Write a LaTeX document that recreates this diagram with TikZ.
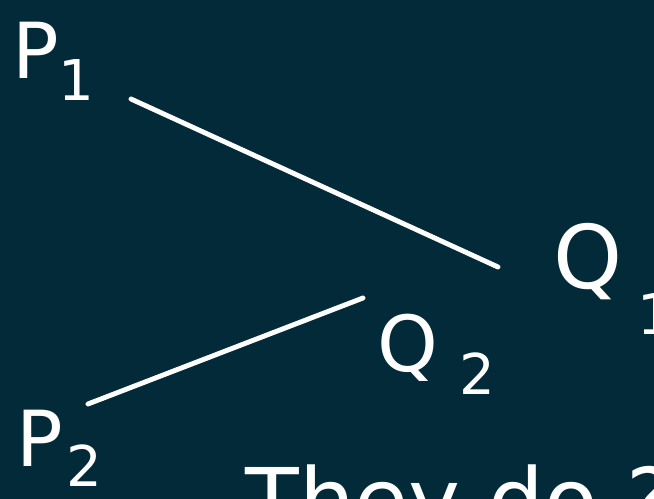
\documentclass[tikz,border=0pt]{standalone}
\usepackage{fontspec}
\setmainfont{DejaVu Sans}
\usetikzlibrary{positioning}
\definecolor{boardbg}{HTML}{022A38}

\begin{document}
\begin{tikzpicture}[x=0.02cm, y=-0.02cm,
    every node/.style={text=white, inner sep=0pt, font=\fontsize{44}{44}\selectfont},
    sub/.style={font=\fontsize{32}{32}\selectfont},
    chalk/.style={white, line width=2.8pt, line cap=round}]
      \fill[boardbg] (0,0) rectangle (654,499);
      \useasboundingbox (0,0) rectangle (654,499);
      \clip (0,0) rectangle (654,499);
      % points and labels
      \node (p1) at (36,50) {P};
      \node[sub] (p1sub) at (76,80) {1};
      \node[font=\fontsize{50}{50}\selectfont] (q1) at (588,262) {Q};
      \node[sub] (q1sub) at (655,314) {1};
      \node (q2) at (408,348) {Q};
      \node[sub] (q2sub) at (477,374) {2};
      \node (p2) at (40,438) {P};
      \node[sub] (p2sub) at (84,466) {2};
      \coordinate (a1) at (131,99);
      \coordinate (b1) at (498,267);
      \coordinate (a2) at (88,404);
      \coordinate (b2) at (363,298);
      % the two segments
      \draw[chalk] (a1) -- (b1);
      \draw[chalk] (a2) -- (b2);
      \node[anchor=base west, font=\fontsize{50}{50}\selectfont] (ask) at (245,532) {They do ?};
    \end{tikzpicture}
\end{document}
